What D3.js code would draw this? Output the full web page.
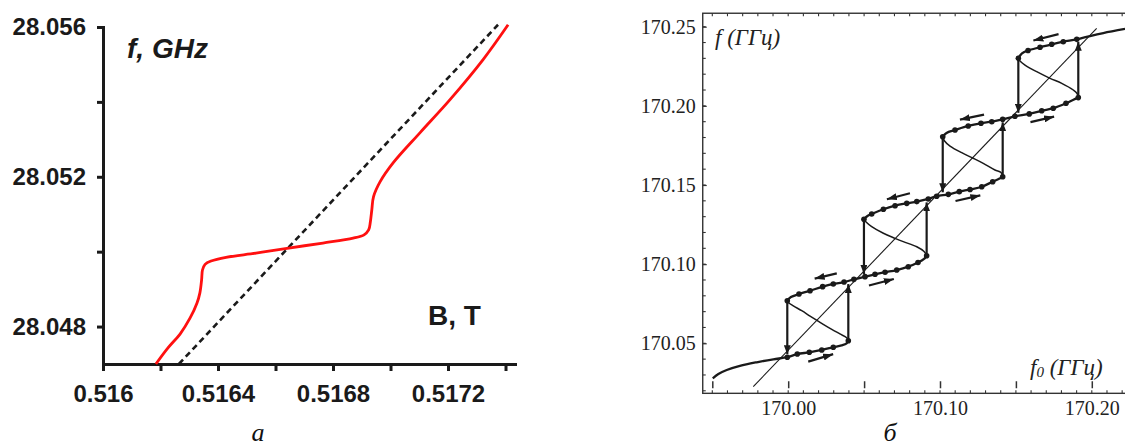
<!DOCTYPE html>
<html><head><meta charset="utf-8">
<script src="https://cdn.jsdelivr.net/npm/d3@7"></script>
<style>html,body{margin:0;padding:0;background:#fff;}svg{display:block;}</style>
</head><body>
<svg id="chart" width="1125" height="448"></svg>
<script>
// ---------------- LEFT PANEL DATA (B in T, f in GHz) ----------------
const xTicksL = [0.5160, 0.5162, 0.5164, 0.5166, 0.5168, 0.5170, 0.5172, 0.5174];
const xTickLabelsL = ["0.516", "", "0.5164", "", "0.5168", "", "0.5172", ""];
const yTicksL = [28.048, 28.050, 28.052, 28.054, 28.056];
const yTickLabelsL = ["28.048", "", "28.052", "", "28.056"];
const redCurve = [
  [0.516184, 28.04700], [0.516226, 28.04743], [0.516268, 28.04780], [0.516303, 28.04823],
  [0.516327, 28.04863], [0.516337, 28.04890], [0.516343, 28.04925], [0.516346, 28.04951],
  [0.516355, 28.04966], [0.516376, 28.04975], [0.516428, 28.04985], [0.516532, 28.04996],
  [0.516640, 28.05009], [0.516765, 28.05023], [0.516870, 28.05036], [0.516908, 28.05045],
  [0.516924, 28.05058], [0.516930, 28.05080], [0.516935, 28.05112], [0.516941, 28.05147],
  [0.516964, 28.05187], [0.517009, 28.05237], [0.517103, 28.05318], [0.517207, 28.05406],
  [0.517322, 28.05513], [0.517409, 28.05606]
];
const dashedLine = [[0.516264, 28.04700], [0.517374, 28.05606]];
const leftLabels = ["f, GHz", "B, T"];

// ---------------- RIGHT PANEL DATA (f0, f in THz) ----------------
const xTicksR = [169.95, 170.00, 170.05, 170.10, 170.15, 170.20];
const xTickLabelsR = ["", "170.00", "", "170.10", "", "170.20"];
const yTicksR = [170.05, 170.10, 170.15, 170.20, 170.25];
const yTickLabelsR = ["170.05", "170.10", "170.15", "170.20", "170.25"];
const xExtentR = [169.9437, 170.226];
const yExtentR = [170.0184, 170.2585];
const diagonal = [[169.9770, 170.0226], [170.2032, 170.2490]];
// stable branches: [f0, f, hasDot]
const stable0 = [[169.9503,170.0279,0],[169.9540,170.0306,0],[169.9595,170.0331,0],[169.9682,170.0357,0],[169.9792,170.0380,0],[169.9902,170.0399,0],[169.9994,170.0412,1],[170.0060,170.0432,1],[170.0139,170.0443,1],[170.0221,170.0458,1],[170.0297,170.0475,1],[170.0352,170.0487,0],[170.0385,170.0500,0],[170.0396,170.0516,1]];
const stable1 = [[169.9994,170.0769,1],[170.0018,170.0792,0],[170.0071,170.0811,1],[170.0144,170.0832,1],[170.0227,170.0858,1],[170.0297,170.0875,1],[170.0368,170.0887,1],[170.0433,170.0904,1],[170.0506,170.0921,1],[170.0572,170.0936,1],[170.0638,170.0949,1],[170.0715,170.0963,1],[170.0791,170.0984,1],[170.0855,170.1010,1],[170.0895,170.1033,0],[170.0912,170.1053,1]];
const stable2 = [[170.0499,170.1283,1],[170.0522,170.1304,0],[170.0550,170.1317,1],[170.0627,170.1347,1],[170.0704,170.1369,1],[170.0781,170.1384,1],[170.0847,170.1395,1],[170.0923,170.1412,1],[170.0978,170.1429,1],[170.1055,170.1441,1],[170.1127,170.1458,1],[170.1198,170.1472,1],[170.1275,170.1489,1],[170.1347,170.1521,1],[170.1389,170.1539,0],[170.1413,170.1552,1]];
const stable3 = [[170.1018,170.1805,1],[170.1043,170.1829,0],[170.1099,170.1847,1],[170.1186,170.1873,1],[170.1270,170.1890,1],[170.1341,170.1900,1],[170.1413,170.1915,1],[170.1494,170.1934,1],[170.1588,170.1949,1],[170.1670,170.1969,1],[170.1746,170.1985,1],[170.1830,170.2016,1],[170.1876,170.2037,0],[170.1911,170.2052,1]];
const stable4 = [[170.1516,170.2300,1],[170.1540,170.2331,0],[170.1580,170.2350,1],[170.1659,170.2370,1],[170.1736,170.2389,1],[170.1812,170.2405,1],[170.1901,170.2420,1],[170.1988,170.2441,0],[170.2076,170.2460,0],[170.2219,170.2486,0]];
// unstable (back-bending) branches: [f0, f]
const unstable1 = [[170.0396,170.0516],[170.0385,170.0535],[170.0341,170.0559],[170.0287,170.0588],[170.0231,170.0620],[170.0192,170.0643],[170.0144,170.0672],[170.0089,170.0706],[170.0034,170.0736],[170.0003,170.0756],[169.9994,170.0769]];
const unstable2 = [[170.0912,170.1053],[170.0895,170.1080],[170.0847,170.1110],[170.0758,170.1142],[170.0704,170.1163],[170.0627,170.1195],[170.0550,170.1237],[170.0513,170.1266],[170.0499,170.1283]];
const unstable3 = [[170.1413,170.1552],[170.1402,170.1579],[170.1362,170.1595],[170.1285,170.1637],[170.1219,170.1669],[170.1143,170.1704],[170.1066,170.1746],[170.1030,170.1778],[170.1018,170.1805]];
const unstable4 = [[170.1911,170.2052],[170.1903,170.2078],[170.1878,170.2100],[170.1802,170.2142],[170.1725,170.2174],[170.1637,170.2216],[170.1560,170.2258],[170.1527,170.2283],[170.1516,170.2300]];
// vertical jumps: [f0, fFrom, fTo]
const jumpsDown = [[169.9994,170.0769,170.0412],[170.0499,170.1283,170.0919],[170.1018,170.1805,170.1435],[170.1516,170.2300,170.1937]];
const jumpsUp = [[170.0396,170.0516,170.0893],[170.0912,170.1053,170.1409],[170.1413,170.1552,170.1915],[170.1911,170.2052,170.2424]];
// drift arrows: [f0 tail, f tail, f0 head, f head]
const driftRight = [[170.0132,170.0384,170.0315,170.0437],[170.0532,170.0865,170.0715,170.0911],[170.1102,170.1399,170.1285,170.1439],[170.1596,170.1897,170.1771,170.1936]];
const driftLeft = [[170.0320,170.0942,170.0155,170.0904],[170.0802,170.1448,170.0631,170.1405],[170.1290,170.1945,170.1112,170.1909],[170.1781,170.2453,170.1596,170.2408]];
const captions = ["а", "б"];

// ---------------- DRAW ----------------
const svg = d3.select("#chart");
const ink = "#1a1a1a";
const sansBold = "'Liberation Sans', Arial, sans-serif";
const serif = "'Liberation Serif', 'Times New Roman', serif";
const labelOf = (vals, labels) => d => { const i = vals.findIndex(v => Math.abs(v - d) < 1e-9); return i < 0 ? "" : labels[i]; };

// Left panel
const xL = d3.scaleLinear().domain([0.516, 0.517433]).range([103, 515]);
const yL = d3.scaleLinear().domain([28.047, 28.056]).range([364, 27]);

const gxL = svg.append("g").attr("transform", "translate(0,364)")
  .call(d3.axisBottom(xL).tickValues(xTicksL).tickFormat(labelOf(xTicksL, xTickLabelsL)).tickSize(7).tickPadding(14).tickSizeOuter(0));
const gyL = svg.append("g").attr("transform", "translate(103,0)")
  .call(d3.axisLeft(yL).tickValues(yTicksL).tickFormat(labelOf(yTicksL, yTickLabelsL)).tickSize(6).tickPadding(11).tickSizeOuter(0));
[gxL, gyL].forEach(g => {
  g.select(".domain").attr("stroke", ink).attr("stroke-width", 3).attr("stroke-linecap", "square");
  g.selectAll(".tick line").attr("stroke", ink).attr("stroke-width", 3);
  g.selectAll(".tick text").attr("fill", ink).style("font-family", sansBold).style("font-weight", "bold").style("font-size", "24px");
});

const lineL = d3.line().x(d => xL(d[0])).y(d => yL(d[1]));
svg.append("path").datum(dashedLine).attr("d", lineL).attr("fill", "none")
  .attr("stroke", ink).attr("stroke-width", 2.6).attr("stroke-dasharray", "6,4");
svg.append("path").datum(redCurve).attr("d", lineL.curve(d3.curveCatmullRom.alpha(0.5))).attr("fill", "none")
  .attr("stroke", "#ff1010").attr("stroke-width", 2.8).attr("stroke-linejoin", "round");

svg.append("text").text(leftLabels[0]).attr("x", 127).attr("y", 58)
  .style("font-family", sansBold).style("font-weight", "bold").style("font-style", "italic").style("font-size", "28px").attr("fill", ink);
svg.append("text").text(leftLabels[1]).attr("x", 428).attr("y", 325)
  .style("font-family", sansBold).style("font-weight", "bold").style("font-size", "28px").attr("fill", ink);

// Right panel
const xR = d3.scaleLinear().domain([169.95, 170.20]).range([712.3, 1091.8]);
const yR = d3.scaleLinear().domain([170.05, 170.25]).range([343.3, 26.7]);
const fx0 = xR(xExtentR[0]), fx1 = xR(xExtentR[1]);
const fyTop = yR(yExtentR[1]), fyBot = yR(yExtentR[0]);

const defs = svg.append("defs");
defs.append("marker").attr("id", "headJ").attr("viewBox", "0 0 9 7").attr("refX", 9).attr("refY", 3.5)
  .attr("markerWidth", 9).attr("markerHeight", 7).attr("markerUnits", "userSpaceOnUse").attr("orient", "auto")
  .append("path").attr("d", "M0,0L9,3.5L0,7Z").attr("fill", ink);
defs.append("marker").attr("id", "headS").attr("viewBox", "0 0 10 7").attr("refX", 10).attr("refY", 3.5)
  .attr("markerWidth", 10).attr("markerHeight", 7).attr("markerUnits", "userSpaceOnUse").attr("orient", "auto")
  .append("path").attr("d", "M0,0L10,3.5L0,7Z").attr("fill", ink);

// frame
svg.append("rect").attr("x", fx0).attr("y", fyTop).attr("width", fx1 - fx0).attr("height", fyBot - fyTop)
  .attr("fill", "none").attr("stroke", "#333").attr("stroke-width", 1.4);

// minor ticks (every 0.01)
const minorX = d3.range(0, 28).map(k => 169.95 + k * 0.01).filter(v => v < xExtentR[1]);
const minorY = d3.range(0, 24).map(k => 170.02 + k * 0.01).filter(v => v < yExtentR[1]);
const gTicks = svg.append("g").attr("stroke", "#333").attr("stroke-width", 1.1);
gTicks.selectAll(".mxb").data(minorX).join("line").attr("x1", d => xR(d)).attr("x2", d => xR(d)).attr("y1", fyBot).attr("y2", fyBot - 3);
gTicks.selectAll(".mxt").data(minorX).join("line").attr("x1", d => xR(d)).attr("x2", d => xR(d)).attr("y1", fyTop).attr("y2", fyTop + 3);
gTicks.selectAll(".myl").data(minorY).join("line").attr("y1", d => yR(d)).attr("y2", d => yR(d)).attr("x1", fx0).attr("x2", fx0 + 3);

const gxR = svg.append("g").attr("transform", `translate(0,${fyBot})`)
  .call(d3.axisBottom(xR).tickValues(xTicksR).tickFormat(labelOf(xTicksR, xTickLabelsR)).tickSize(-12).tickPadding(7.5).tickSizeOuter(0));
gxR.selectAll(".tick line").attr("stroke", "#333").attr("stroke-width", 1.5).attr("stroke-dasharray", "0,5,7,30");
const gyR = svg.append("g").attr("transform", `translate(${fx0},0)`)
  .call(d3.axisLeft(yR).tickValues(yTicksR).tickFormat(labelOf(yTicksR, yTickLabelsR)).tickSize(-4).tickPadding(7).tickSizeOuter(0));
gyR.selectAll(".tick line").attr("stroke", "#333").attr("stroke-width", 1.2);
[gxR, gyR].forEach(g => {
  g.select(".domain").remove();
  g.selectAll(".tick text").attr("fill", "#222").style("font-family", serif).style("font-size", "20px");
});

const lineR = d3.line().x(d => xR(d[0])).y(d => yR(d[1])).curve(d3.curveCatmullRom.alpha(0.5));
svg.append("path").datum(diagonal).attr("d", d3.line().x(d => xR(d[0])).y(d => yR(d[1])))
  .attr("fill", "none").attr("stroke", ink).attr("stroke-width", 1.1);
[unstable1, unstable2, unstable3, unstable4].forEach(u => {
  svg.append("path").datum(u).attr("d", lineR).attr("fill", "none").attr("stroke", ink).attr("stroke-width", 1.5);
});
const stables = [stable0, stable1, stable2, stable3, stable4];
stables.forEach(s => {
  svg.append("path").datum(s).attr("d", lineR).attr("fill", "none").attr("stroke", ink).attr("stroke-width", 2.3);
});

// arrows
function arrow(x1, y1, x2, y2, marker, w) {
  const dx = x2 - x1, dy = y2 - y1, L = Math.hypot(dx, dy);
  svg.append("line").attr("x1", x1).attr("y1", y1).attr("x2", x2 - dx / L * 3).attr("y2", y2 - dy / L * 3)
    .attr("stroke", ink).attr("stroke-width", w).attr("marker-end", `url(#${marker})`);
}
jumpsDown.concat(jumpsUp).forEach(j => arrow(xR(j[0]), yR(j[1]), xR(j[0]), yR(j[2]), "headJ", 2.2));
driftRight.concat(driftLeft).forEach(a => arrow(xR(a[0]), yR(a[1]), xR(a[2]), yR(a[3]), "headS", 2.2));

// dots
const dots = stables.flatMap(s => s.filter(p => p[2] === 1));
svg.append("g").selectAll("circle").data(dots).join("circle")
  .attr("cx", d => xR(d[0])).attr("cy", d => yR(d[1])).attr("r", 2.8).attr("fill", ink);

// axis labels
svg.append("text").attr("x", 715).attr("y", 45).attr("fill", "#222")
  .style("font-family", serif).style("font-style", "italic").style("font-size", "23px").text("f (ГГц)");
const t0 = svg.append("text").attr("x", 1030).attr("y", 375).attr("fill", "#222")
  .style("font-family", serif).style("font-style", "italic").style("font-size", "23px");
t0.append("tspan").text("f");
t0.append("tspan").attr("dy", 2).style("font-size", "15px").text("0");
t0.append("tspan").attr("dy", -2).text(" (ГГц)");

// captions
svg.append("text").attr("x", 258).attr("y", 441).attr("text-anchor", "middle").attr("fill", "#111")
  .style("font-family", serif).style("font-style", "italic").style("font-size", "26px").text(captions[0]);
svg.append("text").attr("x", 890).attr("y", 441).attr("text-anchor", "middle").attr("fill", "#111")
  .style("font-family", serif).style("font-style", "italic").style("font-size", "26px").text(captions[1]);
</script>
</body></html>
